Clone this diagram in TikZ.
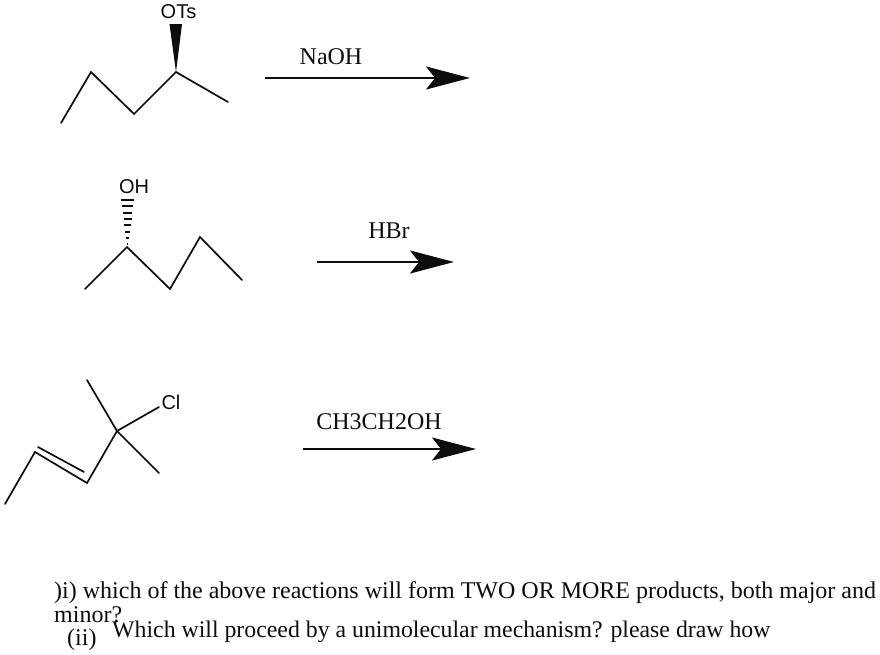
\documentclass[tikz,border=0pt]{standalone}
\usepackage{fontspec}
\setmainfont{Liberation Serif}
\newfontfamily\atomfont{Liberation Sans}
\usetikzlibrary{arrows.meta, positioning}
\colorlet{BondColor}{black!95}

\begin{document}
\begin{tikzpicture}[
        x=1pt, y=-1pt,
        bond/.style={draw=BondColor, line width=1.7pt, line cap=round, line join=miter},
        atomlabel/.style={font=\atomfont\fontsize{20}{20}\selectfont, inner sep=0pt, text=BondColor},
        reagent/.style={font=\fontsize{24}{24}\selectfont, inner sep=0pt, text=BondColor},
        question/.style={font=\fontsize{24}{24}\selectfont, inner sep=0pt, anchor=base west, text=BondColor},
        reaction/.style={draw=BondColor, line width=1.9pt, -{Stealth[length=44pt, width=23pt, inset=9pt]}}
    ]
    
    % Background
    \useasboundingbox (0,0) rectangle (880,654);
    \fill[white] (0,0) rectangle (880,654);
    
    % Tosylate
    \coordinate (a1) at (61,123);
    \coordinate (a2) at (91,72);
    \coordinate (a3) at (134,114);
    \coordinate (a4) at (176,72);
    \coordinate (a5) at (228,102);
    \node[atomlabel] (ots) at (178.5,12) {OTs};
    \draw[bond] (a1) -- (a2) -- (a3) -- (a4) -- (a5);
    \fill[BondColor] (a4) -- (169.5,24) -- (182,24) -- cycle;
    
    % Alcohol
    \coordinate (b1) at (85,289);
    \coordinate (b2) at (127,247);
    \coordinate (b3) at (170,289);
    \coordinate (b4) at (200,237);
    \coordinate (b5) at (242,280);
    \node[atomlabel] (oh) at (134,187) {OH};
    \draw[bond] (b1) -- (b2) -- (b3) -- (b4) -- (b5);
    
    % Hashed bond
    \foreach \i in {0,...,7} {
        \pgfmathsetmacro{\h}{200+\i*6.3}
        \pgfmathsetmacro{\w}{6.4-\i*0.8}
        \draw[BondColor, line width=2pt] (127.5-\w,\h) -- (127.5+\w,\h);
    }
    
    % Allylic chloride
    \coordinate (c1) at (5,504);
    \coordinate (c2) at (35,452);
    \coordinate (c3) at (87,483);
    \coordinate (c4) at (117,431);
    \coordinate (c5) at (87,380);
    \coordinate (c6) at (159,473);
    \coordinate (c7) at (159,407);
    \coordinate (c8) at (38,447);
    \coordinate (c9) at (84,472);
    \node[atomlabel] (cl) at (171,402) {Cl};
    \draw[bond] (c1) -- (c2) -- (c3) -- (c4) -- (c5);
    \draw[bond] (c4) -- (c6);
    \draw[bond] (c4) -- (c7);
    \draw[bond] (c8) -- (c9);
    
    % Reaction arrows
    \coordinate (r1) at (265,78);
    \coordinate (p1) at (470,78);
    \coordinate (r2) at (317,262);
    \coordinate (p2) at (454,262);
    \coordinate (r3) at (303,449);
    \coordinate (p3) at (476,449);
    \draw[reaction] (r1) -- (p1);
    \draw[reaction] (r2) -- (p2);
    \draw[reaction] (r3) -- (p3);
    \node[reagent] (naoh) at (331,57) {NaOH};
    \node[reagent] (hbr) at (389,231) {HBr};
    \node[reagent] (etoh) at (379,422) {CH3CH2OH};
    
    % Questions
    \node[question] (q1) at (54,598) {)i) which of the above reactions will form TWO OR MORE products, both major and};
    \node[question] (q2) at (54,622) {minor?};
    \node[question] (q3) at (67,645) {(ii)};
    \node[question, font=\fontsize{23.8}{24}\selectfont] (q4) at (112,637) {Which will proceed by a unimolecular mechanism? please draw how};
    
    \end{tikzpicture}
\end{document}
